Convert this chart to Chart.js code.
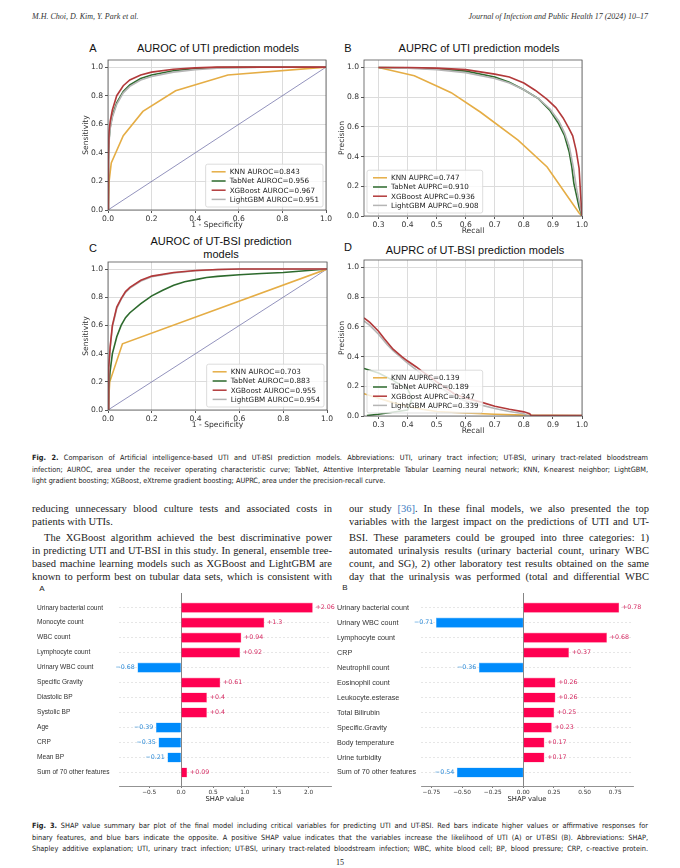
<!DOCTYPE html>
<html>
<head>
<meta charset="utf-8">
<script src="https://cdn.jsdelivr.net/npm/chart.js@4.4.0/dist/chart.umd.min.js"></script>
<style>
body{margin:0;background:#fff;width:680px;height:868px;position:relative;overflow:hidden;color:#222;}
.t{position:absolute;white-space:nowrap;}
.c{position:absolute;white-space:nowrap;transform:translate(-50%,-50%);}
.hdr{font-family:"Liberation Serif",serif;font-style:italic;font-size:8px;color:#333;}
.ttl{font-family:"Liberation Sans",Arial,sans-serif;font-size:11px;color:#111;}
.cap{position:absolute;left:32px;width:616px;font-family:"Liberation Sans Narrow","DejaVu Sans Condensed",sans-serif;font-size:7.3px;line-height:9px;text-align:justify;text-align-last:justify;color:#222;}
.body{position:absolute;font-family:"Liberation Serif",serif;font-size:10.5px;line-height:12px;text-align:justify;text-align-last:justify;color:#222;}
.nolast{text-align-last:left;}
canvas{position:absolute;}
</style>
</head>
<body>

<div class="t hdr" style="left:32px;top:12px">M.H. Choi, D. Kim, Y. Park et al.</div>
<div class="t hdr" style="right:32px;top:12px">Journal of Infection and Public Health 17 (2024) 10–17</div>

<div class="c ttl" style="left:93px;top:48px">A</div>
<div class="c ttl" style="left:218px;top:48px">AUROC of UTI prediction models</div>
<div class="c ttl" style="left:348px;top:48px">B</div>
<div class="c ttl" style="left:479px;top:48px">AUPRC of UTI prediction models</div>
<div class="c ttl" style="left:93px;top:248px">C</div>
<div class="c ttl" style="left:221px;top:241px">AUROC of UT-BSI prediction</div>
<div class="c ttl" style="left:221px;top:254px">models</div>
<div class="c ttl" style="left:348px;top:247px">D</div>
<div class="c ttl" style="left:475px;top:250px">AUPRC of UT-BSI prediction models</div>

<canvas id="rocUti" width="254" height="176" style="left:78px;top:56px"></canvas>
<canvas id="prUti" width="254" height="182" style="left:334px;top:56px"></canvas>
<canvas id="rocBsi" width="255" height="174" style="left:78px;top:258px"></canvas>
<canvas id="prBsi" width="254" height="182" style="left:334px;top:256px"></canvas>

<div class="cap" style="top:453px"><b>Fig. 2.</b> Comparison of Artificial intelligence-based UTI and UT-BSI prediction models. Abbreviations: UTI, urinary tract infection; UT-BSI, urinary tract-related bloodstream</div>
<div class="cap" style="top:465px">infection; AUROC, area under the receiver operating characteristic curve; TabNet, Attentive Interpretable Tabular Learning neural network; KNN, K-nearest neighbor; LightGBM,</div>
<div class="cap nolast" style="top:476px">light gradient boosting; XGBoost, eXtreme gradient boosting; AUPRC, area under the precision-recall curve.</div>

<div class="body" style="left:32px;width:300px;top:503px">reducing unnecessary blood culture tests and associated costs in</div>
<div class="body nolast" style="left:32px;width:300px;top:516px">patients with UTIs.</div>
<div class="body" style="left:44px;width:288px;top:532px">The XGBoost algorithm achieved the best discriminative power</div>
<div class="body" style="left:32px;width:300px;top:545px">in predicting UTI and UT-BSI in this study. In general, ensemble tree-</div>
<div class="body" style="left:32px;width:300px;top:558px">based machine learning models such as XGBoost and LightGBM are</div>
<div class="body" style="left:32px;width:300px;top:571px">known to perform best on tubular data sets, which is consistent with</div>

<div class="body" style="left:349px;width:300px;top:503px">our study <span style="color:#3b7bbf">[36]</span>. In these final models, we also presented the top</div>
<div class="body" style="left:349px;width:300px;top:516px">variables with the largest impact on the predictions of UTI and UT-</div>
<div class="body" style="left:349px;width:300px;top:532px">BSI. These parameters could be grouped into three categories: 1)</div>
<div class="body" style="left:349px;width:300px;top:545px">automated urinalysis results (urinary bacterial count, urinary WBC</div>
<div class="body" style="left:349px;width:300px;top:558px">count, and SG), 2) other laboratory test results obtained on the same</div>
<div class="body" style="left:349px;width:300px;top:571px">day that the urinalysis was performed (total and differential WBC</div>

<div class="c" style="left:42px;top:588px;font-family:'Liberation Sans',sans-serif;font-size:8px">A</div>
<div class="c" style="left:345px;top:587px;font-family:'Liberation Sans',sans-serif;font-size:8px">B</div>
<canvas id="shapUti" width="308" height="217" style="left:37px;top:588px"></canvas>
<canvas id="shapBsi" width="320" height="217" style="left:337px;top:588px"></canvas>

<div class="cap" style="top:821px"><b>Fig. 3.</b> SHAP value summary bar plot of the final model including critical variables for predicting UTI and UT-BSI. Red bars indicate higher values or affirmative responses for</div>
<div class="cap" style="top:833px">binary features, and blue bars indicate the opposite. A positive SHAP value indicates that the variables increase the likelihood of UTI (A) or UT-BSI (B). Abbreviations: SHAP,</div>
<div class="cap" style="top:844px">Shapley additive explanation; UTI, urinary tract infection; UT-BSI, urinary tract-related bloodstream infection; WBC, white blood cell; BP, blood pressure; CRP, c-reactive protein.</div>
<div class="c" style="left:340px;top:862px;font-family:'Liberation Serif',serif;font-size:8px">15</div>

<script>
// ---- Fig 2 curves, [x, y] ----
const rocTicks = [0, 0.2, 0.4, 0.6, 0.8, 1.0];
const prRecallTicks = [0.3, 0.4, 0.5, 0.6, 0.7, 0.8, 0.9, 1.0];
const rocDiagonal = [[0,0],[1,1]];

const rocUtiLabels = ['KNN AUROC=0.843','TabNet AUROC=0.956','XGBoost AUROC=0.967','LightGBM AUROC=0.951'];
const rocUtiKnn = [[0,0],[0.005,0.2],[0.015,0.33],[0.07,0.52],[0.16,0.69],[0.31,0.835],[0.55,0.945],[1,1]];
const rocUtiTabnet = [[0,0],[0.002,0.35],[0.005,0.5],[0.01,0.58],[0.02,0.66],[0.04,0.75],[0.07,0.83],[0.1,0.875],[0.15,0.92],[0.2,0.945],[0.3,0.975],[0.4,0.99],[0.5,0.997],[0.7,1],[1,1]];
const rocUtiXgb = [[0,0],[0.002,0.4],[0.005,0.55],[0.01,0.62],[0.02,0.7],[0.04,0.8],[0.07,0.87],[0.1,0.91],[0.15,0.945],[0.2,0.965],[0.3,0.985],[0.4,0.995],[0.5,1],[1,1]];
const rocUtiLgbm = [[0,0],[0.002,0.33],[0.005,0.48],[0.01,0.57],[0.02,0.65],[0.04,0.74],[0.07,0.82],[0.1,0.865],[0.15,0.91],[0.2,0.935],[0.3,0.965],[0.4,0.982],[0.5,0.992],[0.7,0.999],[1,1]];

const prUtiLabels = ['KNN AUPRC=0.747','TabNet AUPRC=0.910','XGBoost AUPRC=0.936','LightGBM AUPRC=0.908'];
const prUtiKnn = [[0.3,1],[0.423,0.944],[0.5,0.875],[0.55,0.83],[0.65,0.7],[0.78,0.51],[0.88,0.33],[0.99,0.02],[1,0]];
const prUtiTabnet = [[0.3,1],[0.4,0.998],[0.5,0.99],[0.6,0.975],[0.7,0.935],[0.75,0.9],[0.8,0.85],[0.85,0.79],[0.89,0.71],[0.92,0.62],[0.94,0.54],[0.956,0.43],[0.965,0.33],[0.972,0.22],[0.98,0.15],[0.99,0.06],[1,0]];
const prUtiXgb = [[0.3,1],[0.4,1],[0.5,0.995],[0.6,0.985],[0.7,0.955],[0.75,0.935],[0.8,0.895],[0.84,0.845],[0.88,0.785],[0.91,0.73],[0.935,0.66],[0.955,0.59],[0.968,0.54],[0.98,0.44],[0.99,0.32],[0.995,0.15],[1,0]];
const prUtiLgbm = [[0.3,1],[0.4,0.995],[0.5,0.985],[0.6,0.965],[0.7,0.925],[0.75,0.895],[0.8,0.85],[0.85,0.79],[0.89,0.72],[0.92,0.64],[0.94,0.56],[0.956,0.47],[0.97,0.33],[0.98,0.2],[0.99,0.1],[1,0]];

const rocBsiLabels = ['KNN AUROC=0.703','TabNet AUROC=0.883','XGBoost AUROC=0.955','LightGBM AUROC=0.954'];
const rocBsiKnn = [[0,0],[0.008,0.2],[0.066,0.47],[1,1]];
const rocBsiTabnet = [[0,0],[0.003,0.15],[0.01,0.28],[0.02,0.4],[0.04,0.52],[0.06,0.6],[0.08,0.655],[0.1,0.69],[0.15,0.755],[0.2,0.81],[0.25,0.85],[0.3,0.885],[0.35,0.91],[0.4,0.925],[0.45,0.94],[0.5,0.948],[0.6,0.96],[0.7,0.968],[0.8,0.975],[0.9,0.988],[1,1]];
const rocBsiXgb = [[0,0],[0.003,0.3],[0.01,0.45],[0.02,0.6],[0.04,0.73],[0.06,0.79],[0.08,0.84],[0.1,0.87],[0.15,0.92],[0.2,0.95],[0.3,0.975],[0.4,0.99],[0.5,0.997],[0.6,1],[1,1]];
const rocBsiLgbm = [[0,0],[0.003,0.28],[0.01,0.44],[0.02,0.59],[0.04,0.72],[0.06,0.785],[0.08,0.835],[0.1,0.865],[0.15,0.915],[0.2,0.945],[0.3,0.972],[0.4,0.988],[0.5,0.996],[0.6,1],[1,1]];

const prBsiLabels = ['KNN AUPRC=0.139','TabNet AUPRC=0.189','XGBoost AUPRC=0.347','LightGBM AUPRC=0.339'];
const prBsiKnn = [[0.25,0.15],[0.3,0.12],[0.35,0.09],[0.4,0.065],[0.45,0.045],[0.5,0.03],[0.6,0.02],[0.7,0.012],[0.8,0.006],[1,0.003]];
const prBsiTabnet = [[0.25,0.32],[0.3,0.29],[0.35,0.24],[0.4,0.18],[0.415,0.12],[0.4,0.04],[0.3,0.012],[0.26,0.003]];
const prBsiXgb = [[0.25,0.66],[0.27,0.63],[0.3,0.57],[0.32,0.52],[0.35,0.45],[0.38,0.4],[0.4,0.37],[0.43,0.33],[0.45,0.3],[0.48,0.26],[0.5,0.23],[0.53,0.19],[0.56,0.15],[0.6,0.12],[0.65,0.095],[0.7,0.065],[0.75,0.045],[0.8,0.028],[0.82,0.015],[0.825,0.003],[1,0.003]];
const prBsiLgbm = [[0.25,0.64],[0.27,0.61],[0.3,0.55],[0.33,0.48],[0.35,0.44],[0.38,0.39],[0.4,0.355],[0.43,0.31],[0.45,0.28],[0.48,0.24],[0.5,0.21],[0.53,0.17],[0.56,0.13],[0.6,0.1],[0.65,0.075],[0.7,0.05],[0.75,0.03],[0.8,0.015],[0.81,0.003],[1,0.003]];

// ---- Fig 3 SHAP bars ----
const shapUtiFeatures = ['Urinary bacterial count','Monocyte count','WBC count','Lymphocyte count','Urinary WBC count','Specific Gravity','Diastolic BP','Systolic BP','Age','CRP','Mean BP','Sum of 70 other features'];
const shapUtiValues = [2.06, 1.3, 0.94, 0.92, -0.68, 0.61, 0.4, 0.4, -0.39, -0.35, -0.21, 0.09];
const shapUtiTicks = [-0.5, 0, 0.5, 1.0, 1.5, 2.0];
const shapBsiFeatures = ['Urinary bacterial count','Urinary WBC count','Lymphocyte count','CRP','Neutrophil count','Eosinophil count','Leukocyte.esterase','Total Bilirubin','Specific.Gravity','Body temperature','Urine turbidity','Sum of 70 other features'];
const shapBsiValues = [0.78, -0.71, 0.68, 0.37, -0.36, 0.26, 0.26, 0.25, 0.23, 0.17, 0.17, -0.54];
const shapBsiTicks = [-0.75, -0.5, -0.25, 0, 0.25, 0.5, 0.75];

const modelColors = ['#e5ad45', '#2d6a2d', '#b2393a', '#b5b5b5'];
const shapRed = '#ff0051', shapBlue = '#008bfb';

// frame round the plot, like matplotlib spines
const framePlugin = {
  id: 'frame',
  afterDatasetsDraw(chart) {
    const a = chart.chartArea, ctx = chart.ctx;
    ctx.save();
    ctx.strokeStyle = '#555';
    ctx.lineWidth = 0.8;
    ctx.strokeRect(a.left, a.top, a.right - a.left, a.bottom - a.top);
    ctx.restore();
  }
};

// legend box inside the plot
const boxLegend = {
  id: 'boxLegend',
  afterDraw(chart, args, opts) {
    const ctx = chart.ctx, a = chart.chartArea;
    const sets = chart.data.datasets.filter(d => d.label);
    ctx.save();
    ctx.font = '7.2px "DejaVu Sans"';
    let w = 0;
    sets.forEach(d => { w = Math.max(w, ctx.measureText(d.label).width); });
    const rowH = 9.2, bw = w + 28, bh = sets.length * rowH + 6;
    const x0 = opts.corner === 'bl' ? a.left + 3 : a.right - 3 - bw;
    const y0 = a.bottom - 3 - bh;
    ctx.beginPath();
    ctx.roundRect(x0, y0, bw, bh, 2);
    ctx.fillStyle = 'rgba(255,255,255,0.8)';
    ctx.fill();
    ctx.strokeStyle = '#d4d4d4';
    ctx.lineWidth = 0.8;
    ctx.stroke();
    sets.forEach((d, i) => {
      const y = y0 + 3 + rowH * (i + 0.5);
      ctx.strokeStyle = d.borderColor;
      ctx.lineWidth = 1.5;
      ctx.beginPath();
      ctx.moveTo(x0 + 6, y);
      ctx.lineTo(x0 + 20, y);
      ctx.stroke();
      ctx.fillStyle = '#222';
      ctx.textBaseline = 'middle';
      ctx.fillText(d.label, x0 + 24, y + 0.5);
    });
    ctx.restore();
  }
};

function toXY(pts) {
  return pts.map(p => ({x: p[0], y: p[1]}));
}

function curveChart(id, curves, labels, xMin, xTicks, xTitle, yTitle, corner, diagonal) {
  const datasets = curves.map((c, i) => ({
    label: labels[i],
    data: toXY(c),
    borderColor: modelColors[i],
    borderWidth: 1.6,
    pointRadius: 0,
    tension: 0,
    order: [4, 3, 1, 2][i]
  }));
  if (diagonal) {
    datasets.push({label: '', data: toXY(rocDiagonal), borderColor: '#6464a0', borderWidth: 0.7, pointRadius: 0, order: 5});
  }
  const fitY = s => { s.width = 30; s.paddingTop = 0; s.paddingBottom = 0; };
  const fitX = s => { s.height = 22; s.paddingLeft = 0; s.paddingRight = 0; };
  return new Chart(document.getElementById(id), {
    type: 'line',
    data: {datasets: datasets},
    options: {
      responsive: false,
      animation: false,
      layout: {padding: {top: 4, right: 6, left: 0, bottom: 0}},
      plugins: {legend: {display: false}, tooltip: {enabled: false}, boxLegend: {corner: corner}},
      scales: {
        x: {
          type: 'linear', min: xMin, max: 1,
          afterBuildTicks: s => { s.ticks = xTicks.map(v => ({value: v})); },
          afterFit: fitX,
          grid: {color: '#dcdcdc', tickColor: '#555', tickLength: 3},
          border: {display: false},
          ticks: {font: {family: 'DejaVu Sans', size: 7.6}, color: '#333', padding: 1, maxRotation: 0,
            callback: v => v.toFixed(1)},
          title: {display: true, text: xTitle, font: {family: 'DejaVu Sans', size: 7.6}, color: '#333', padding: {top: 0, bottom: 2}}
        },
        y: {
          type: 'linear', min: 0, max: 1.05,
          afterBuildTicks: s => { s.ticks = rocTicks.map(v => ({value: v})); },
          afterFit: fitY,
          grid: {color: '#dcdcdc', tickColor: '#555', tickLength: 3},
          border: {display: false},
          ticks: {font: {family: 'DejaVu Sans', size: 7.6}, color: '#333', padding: 2,
            callback: v => v.toFixed(1)},
          title: {display: true, text: yTitle, font: {family: 'DejaVu Sans', size: 7.6}, color: '#333', padding: {top: 3, bottom: 0}}
        }
      }
    },
    plugins: [framePlugin, boxLegend]
  });
}

curveChart('rocUti', [rocUtiKnn, rocUtiTabnet, rocUtiXgb, rocUtiLgbm], rocUtiLabels, 0, rocTicks, '1 - Specificity', 'Sensitivity', 'br', true);
curveChart('prUti', [prUtiKnn, prUtiTabnet, prUtiXgb, prUtiLgbm], prUtiLabels, 0.25, prRecallTicks, 'Recall', 'Precision', 'bl', false);
curveChart('rocBsi', [rocBsiKnn, rocBsiTabnet, rocBsiXgb, rocBsiLgbm], rocBsiLabels, 0, rocTicks, '1 - Specificity', 'Sensitivity', 'br', true);
curveChart('prBsi', [prBsiKnn, prBsiTabnet, prBsiXgb, prBsiLgbm], prBsiLabels, 0.25, prRecallTicks, 'Recall', 'Precision', 'bl', false);

// value text beside each shap bar
const valueLabels = {
  id: 'valueLabels',
  afterDatasetsDraw(chart, args, opts) {
    const ctx = chart.ctx;
    const meta = chart.getDatasetMeta(0);
    const vals = chart.data.datasets[0].data;
    ctx.save();
    ctx.font = opts.size + 'px "DejaVu Sans"';
    ctx.textBaseline = 'middle';
    meta.data.forEach((bar, i) => {
      const v = vals[i].x;
      const txt = (v > 0 ? '+' : '\u2212') + String(Math.abs(v));
      if (v > 0) {
        ctx.fillStyle = '#d62a62';
        ctx.textAlign = 'left';
        ctx.fillText(txt, bar.x + 3, bar.y);
      } else {
        ctx.fillStyle = '#2a8ad8';
        ctx.textAlign = 'right';
        ctx.fillText(txt, bar.x - 3, bar.y);
      }
    });
    ctx.restore();
  }
};

function shapChart(id, features, values, ticks, xMin, xMax, decimals, axisW, padRight, labelSize) {
  const fmt = v => (v < 0 ? '\u2212' : '') + Math.abs(v).toFixed(decimals);
  return new Chart(document.getElementById(id), {
    type: 'bar',
    data: {
      datasets: [{
        data: values.map((v, i) => ({x: v, y: i})),
        backgroundColor: values.map(v => v > 0 ? shapRed : shapBlue),
        borderColor: values.map(v => v > 0 ? '#ff8fb0' : '#7cc4ff'),
        borderWidth: 0.6,
        barThickness: 9.5
      }]
    },
    options: {
      indexAxis: 'y',
      responsive: false,
      animation: false,
      layout: {padding: {top: 5, right: padRight, left: 0, bottom: 0}},
      plugins: {legend: {display: false}, tooltip: {enabled: false}, valueLabels: {size: 6.3}},
      scales: {
        x: {
          type: 'linear', min: xMin, max: xMax, offset: false,
          afterBuildTicks: s => { s.ticks = ticks.map(v => ({value: v})); },
          afterFit: s => { s.height = 19; s.paddingLeft = 0; s.paddingRight = 0; },
          grid: {offset: false, color: c => (c.tick && c.tick.value === 0) ? '#666' : 'rgba(0,0,0,0)', tickColor: '#555', tickLength: 2, lineWidth: 0.8},
          border: {display: true, color: '#777', width: 0.8},
          ticks: {font: {family: 'DejaVu Sans', size: 5.8}, color: '#333', padding: 1, maxRotation: 0, callback: v => fmt(v)},
          title: {display: true, text: 'SHAP value', font: {family: 'DejaVu Sans', size: 6.8}, color: '#222', padding: {top: 0, bottom: 2}}
        },
        y: {
          type: 'linear', reverse: true, min: -0.98, max: 11.9, offset: false,
          afterBuildTicks: s => { s.ticks = features.map((f, i) => ({value: i})); },
          afterFit: s => { s.width = axisW; s.paddingTop = 0; s.paddingBottom = 0; },
          grid: {offset: false, color: '#d6d6d6', lineWidth: 0.6, drawTicks: false},
          border: {display: false, dash: [2, 2]},
          ticks: {crossAlign: 'far', font: {family: 'Liberation Sans', size: labelSize}, color: '#333', padding: 0,
            callback: v => features[Math.round(v)] || ''}
        }
      }
    },
    plugins: [valueLabels]
  });
}

shapChart('shapUti', shapUtiFeatures, shapUtiValues, shapUtiTicks, -0.974, 2.35, 1, 82, 14, 6.6);
shapChart('shapBsi', shapBsiFeatures, shapBsiValues, shapBsiTicks, -0.835, 0.895, 2, 84, 24, 7.2);
</script>
</body>
</html>
